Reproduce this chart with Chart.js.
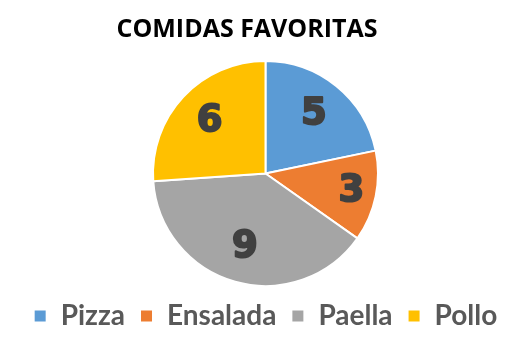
<!DOCTYPE html>
<html>
<head>
<meta charset="utf-8">
<script src="https://cdn.jsdelivr.net/npm/chart.js@4"></script>
<style>
    body { margin: 0; background: #fff; }
    #wrap { position: relative; width: 531px; height: 351px; }
    #title {
        position: absolute; left: 0; width: 494px; top: 10px;
        text-align: center; font: bold 25px "Open Sans", sans-serif; color: #000;
    }
</style>
</head>
<body>
<div id="wrap">
    <div id="title">COMIDAS FAVORITAS</div>
    <canvas id="food-chart" width="531" height="351"></canvas>
</div>
<script>
// =======================
// Data
// =======================
const foodLabels = ["Pizza", "Ensalada", "Paella", "Pollo"];
const foodVotes = [5, 3, 9, 6];
const foodColors = ['#5B9BD5', '#ED7D31', '#A5A5A5', '#FFC000'];

// values drawn inside the slices
const sliceLabels = {
    id: 'sliceLabels',
    afterDatasetsDraw(chart) {
        const ctx = chart.ctx;
        const meta = chart.getDatasetMeta(0);
        ctx.save();
        ctx.font = 'bold 37px "DejaVu Sans", sans-serif';
        ctx.fillStyle = '#404040';
        ctx.strokeStyle = '#404040';
        ctx.lineWidth = 2;
        ctx.lineJoin = 'round';
        ctx.textAlign = 'center';
        ctx.textBaseline = 'middle';
        meta.data.forEach((arc, i) => {
            const p = arc.getProps(['x', 'y', 'startAngle', 'endAngle', 'outerRadius']);
            const mid = (p.startAngle + p.endAngle) / 2;
            // small slices get their value pushed further out
            const r = p.outerRadius * (foodVotes[i] < 4 ? 0.78 : 0.68);
            const x = p.x + Math.cos(mid) * r;
            const y = p.y + Math.sin(mid) * r;
            ctx.strokeText(foodVotes[i], x, y);
            ctx.fillText(foodVotes[i], x, y);
        });
        ctx.restore();
    }
};

const foodCanvas = document.querySelector('#food-chart');
let foodChart = new Chart(foodCanvas, {
    type: 'pie',
    data: {
        labels: foodLabels,
        datasets: [{
            data: foodVotes,
            backgroundColor: foodColors,
            borderColor: '#fff',
            borderWidth: 2
        }]
    },
    options: {
        responsive: false,
        animation: false,
        layout: {
            padding: { top: 60, bottom: 11 }
        },
        plugins: {
            legend: {
                position: 'bottom',
                labels: {
                    boxWidth: 13,
                    boxHeight: 13,
                    padding: 15,
                    color: '#595959',
                    font: { family: 'Lato', size: 28, weight: 'bold' }
                }
            },
            tooltip: { enabled: false }
        }
    },
    plugins: [sliceLabels]
});
</script>
</body>
</html>
